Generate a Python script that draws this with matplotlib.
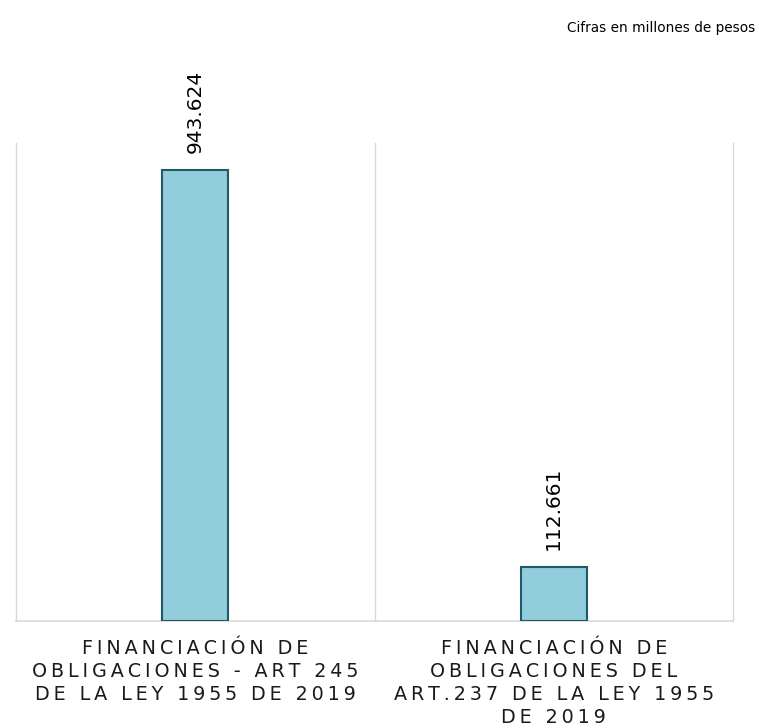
import matplotlib.pyplot as plt

# Data
categorias = [
    "FINANCIACIÓN DE\nOBLIGACIONES - ART 245\nDE LA LEY 1955 DE 2019",
    "FINANCIACIÓN DE\nOBLIGACIONES DEL\nART.237 DE LA LEY 1955\nDE 2019",
]
valores = [943.624, 112.661]
etiquetas = ["943.624", "112.661"]


def espaciar(texto, sep="\u2009"):
    # simulate letter spacing with thin spaces
    lineas = []
    for linea in texto.split("\n"):
        lineas.append(sep.join(list(linea)))
    return "\n".join(lineas)


plt.rcParams['font.family'] = ['DejaVu Sans']

fig = plt.figure(figsize=(7.59, 7.28), dpi=100)
ax = fig.add_axes([16 / 759, 1 - 621 / 728, (733 - 16) / 759, (621 - 143) / 728])

x = list(range(len(valores)))
ax.bar(x, valores, width=0.184, color='#92CDDC', edgecolor='#215968', linewidth=1.5, zorder=3)

ax.set_xlim(-0.5, len(valores) - 0.5)
ax.set_ylim(0, 1000)

# separators between categories
for i in range(len(valores) + 1):
    ax.axvline(i - 0.5, color='#D9D9D9', linewidth=1, zorder=1, clip_on=False)

for s in ['top', 'left', 'right']:
    ax.spines[s].set_visible(False)
ax.spines['bottom'].set_color('#D9D9D9')
ax.spines['bottom'].set_linewidth(1.2)

ax.set_yticks([])
ax.set_xticks(x)
ax.set_xticklabels([espaciar(c) for c in categorias], fontsize=13.8, color='#1a1a1a',
                   linespacing=1.26)
ax.tick_params(axis='x', length=0, pad=13)

# value labels
for xi, v, t in zip(x, valores, etiquetas):
    ax.annotate(t, xy=(xi, v), xytext=(0, 12), textcoords='offset points',
                rotation=90, ha='center', va='bottom', fontsize=14.5, color='#000000')

fig.text(755 / 759, 1 - 28 / 728, "Cifras en millones de pesos", ha='right', va='center',
         fontsize=9.8, color='#000000')

plt.savefig('out.png', dpi=100)
